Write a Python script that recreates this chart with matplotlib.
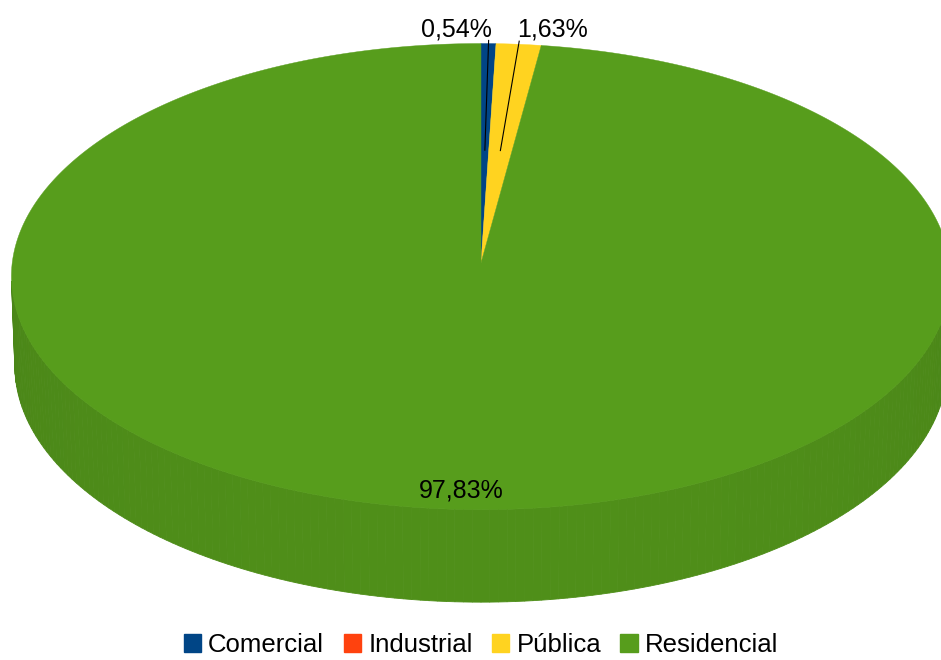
import numpy as np
import matplotlib.pyplot as plt
from matplotlib.patches import Polygon, Patch
from matplotlib.colors import to_rgb

plt.rcParams["font.family"] = ["Liberation Sans", "DejaVu Sans"]

# data
categories = ["Comercial", "Industrial", "Pública", "Residencial"]
shares = [0.54, 0.0, 1.63, 97.83]
colors = ["#004586", "#FF420E", "#FFD320", "#579D1C"]

# canvas in pixel units
W, H = 941, 660

# simple pinhole camera looking down at a unit-radius disc
x0, y0 = 481, 263          # image position of the disc centre
elev = np.radians(29.7)
cam_dist = 14.9
focal = 6985
height = 0.22
ca, sa = np.cos(elev), np.sin(elev)


def proj(u, v, z=0.0):
    # u to the right, v away from the viewer, z up
    den = cam_dist + v * ca - z * sa
    return x0 + focal * u / den, y0 - focal * (v * sa + z * ca) / den


def rim(phi, f=1.0, z=0.0):
    # phi measured clockwise from the back of the disc
    return proj(f * np.sin(phi), f * np.cos(phi), z)


def shade(color, k):
    r, g, b = to_rgb(color)
    return (min(r * k, 1), min(g * k, 1), min(b * k, 1))


fig = plt.figure(figsize=(W / 100, H / 100), dpi=100)
ax = fig.add_axes([0, 0, 1, 1])
ax.set_xlim(0, W)
ax.set_ylim(H, 0)
ax.axis("off")

total = sum(shares)
edges = np.concatenate([[0], np.cumsum(shares)]) / total * 2 * np.pi

# side wall: only the strips that face the camera
lim = np.arccos(-1 / (cam_dist * ca))   # cos(phi) < -1/(L cos a)
for (a0, a1), col in zip(zip(edges[:-1], edges[1:]), colors):
    lo, hi = max(a0, lim), min(a1, 2 * np.pi - lim)
    if hi <= lo:
        continue
    steps = np.linspace(lo, hi, max(int((hi - lo) / np.radians(1)), 2))
    for s0, s1 in zip(steps[:-1], steps[1:]):
        m = (s0 + s1) / 2
        k = 0.85 + 0.06 * (-np.cos(m))
        p = [rim(s0), rim(s1), rim(s1, z=-height), rim(s0, z=-height)]
        c = shade(col, k)
        ax.add_patch(Polygon(p, closed=True, facecolor=c, edgecolor=c, lw=0.6))

# top faces
for (a0, a1), col in zip(zip(edges[:-1], edges[1:]), colors):
    if a1 - a0 <= 0:
        continue
    t = np.linspace(a0, a1, max(int((a1 - a0) / np.radians(0.5)), 2))
    xs, ys = rim(t)
    poly = np.column_stack([np.r_[x0, xs], np.r_[y0, ys]])
    ax.add_patch(Polygon(poly, closed=True, facecolor=col, edgecolor=col, lw=0.3))

# percentage labels
k = 0
for i, v in enumerate(shares):
    if v <= 0:
        continue
    txt = f"{v:.2f}%".replace(".", ",")
    mid = (edges[i] + edges[i + 1]) / 2
    if v < 5:
        xa, ya = rim(mid, 0.5)
        xb, yb = rim(mid, 1.015)
        ax.plot([xa, xb], [ya, yb], color="black", lw=0.8)
        if k % 2 == 0:
            ax.text(xb + 3, 37, txt, ha="right", va="baseline", fontsize=18)
        else:
            ax.text(xb - 2, 37, txt, ha="left", va="baseline", fontsize=18)
        k += 1
    else:
        xa, ya = rim(mid, 0.93)
        ax.text(xa + 12, ya, txt, ha="center", va="center", fontsize=18)

handles = [Patch(facecolor=c, edgecolor=c) for c in colors]
fig.legend(handles, categories, loc="center", bbox_to_anchor=(481 / W, 1 - 645 / H),
           ncol=4, frameon=False, fontsize=18.5, handlelength=0.68,
           handleheight=0.68, handletextpad=0.28, columnspacing=0.75,
           borderpad=0)

fig.savefig("out.png", dpi=100)
